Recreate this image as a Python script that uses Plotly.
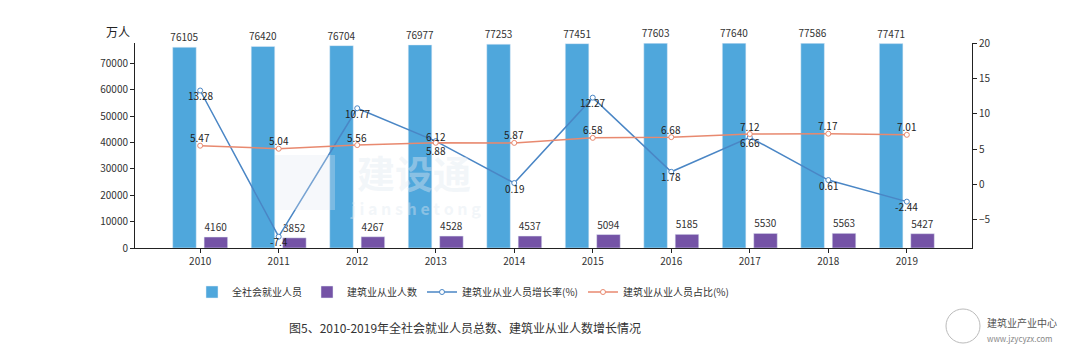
import plotly.graph_objects as go

years = ["2010", "2011", "2012", "2013", "2014", "2015", "2016", "2017", "2018", "2019"]
total_employed = [76105, 76420, 76704, 76977, 77253, 77451, 77603, 77640, 77586, 77471]
construction_employed = [4160, 3852, 4267, 4528, 4537, 5094, 5185, 5530, 5563, 5427]
growth_rate = [13.28, -7.4, 10.77, 6.12, 0.19, 12.27, 1.78, 6.66, 0.61, -2.44]
share_pct = [5.47, 5.04, 5.56, 5.88, 5.87, 6.58, 6.68, 7.12, 7.17, 7.01]

FONT = "Noto Sans CJK SC"
BLUE_BAR = "#4FA7DC"
PURPLE = "#7453A6"
LINE_BLUE = "#4A86C5"
ORANGE = "#E8896F"

W, H = 1080, 354
L, R, T, B = 135, 108, 43, 106

fig = go.Figure()
fig.add_trace(go.Bar(
    x=years, y=total_employed, name="全社会就业人员", marker_color=BLUE_BAR,
    text=[str(v) for v in total_employed], textposition="outside", cliponaxis=False,
    constraintext="none", textfont=dict(size=10, color="#333"), yaxis="y",
))
fig.add_trace(go.Bar(
    x=years, y=construction_employed, name="建筑业从业人数", marker_color=PURPLE,
    text=[str(v) for v in construction_employed], textposition="outside", cliponaxis=False,
    constraintext="none", textfont=dict(size=10, color="#333"), yaxis="y",
))
fig.add_trace(go.Scatter(
    x=years, y=growth_rate, name="建筑业从业人员增长率(%)", mode="lines+markers",
    line=dict(color=LINE_BLUE, width=1.5),
    marker=dict(symbol="circle", size=5, color="white", line=dict(color=LINE_BLUE, width=1)),
    yaxis="y2", cliponaxis=False,
))
fig.add_trace(go.Scatter(
    x=years, y=share_pct, name="建筑业从业人员占比(%)", mode="lines+markers",
    line=dict(color=ORANGE, width=1.5),
    marker=dict(symbol="circle", size=5, color="white", line=dict(color=ORANGE, width=1)),
    yaxis="y2", cliponaxis=False,
))

# label offsets (px): growth labels mostly just below the point, share labels above
growth_shift = [-5 if i != 3 else 5 for i in range(len(years))]
share_shift = [8 if i != 3 else -8 for i in range(len(years))]

annotations = []
for i, v in enumerate(growth_rate):
    annotations.append(dict(x=i, y=v, xref="x", yref="y2", text=f"{v:g}", showarrow=False,
                            xanchor="center", yanchor="middle", yshift=growth_shift[i],
                            font=dict(family=FONT, size=10, color="#222")))
for i, v in enumerate(share_pct):
    annotations.append(dict(x=i, y=v, xref="x", yref="y2", text=f"{v:g}", showarrow=False,
                            xanchor="center", yanchor="middle", yshift=share_shift[i],
                            font=dict(family=FONT, size=10, color="#222")))

def px_x(p):
    return (p - L) / (W - L - R)

def px_y(p):
    return (H - B - p) / (H - T - B)

def note(x, y, text, size, color, anchor="center"):
    annotations.append(dict(x=px_x(x), y=px_y(y), xref="paper", yref="paper", text=text,
                            showarrow=False, xanchor=anchor, yanchor="middle",
                            font=dict(family=FONT, size=size, color=color)))

note(118, 32, "万人", 12, "#222")
note(465, 327, "图5、2010-2019年全社会就业人员总数、建筑业从业人数增长情况", 12, "#333")
# watermark
WM = "rgba(225,233,241,0.42)"
note(414, 171, "<b>建设通</b>", 38, WM)
note(415, 208, "<b>j i a n s h e t o n g</b>", 16, WM)
# logo
note(985, 322, "建筑业产业中心", 10, "#555", "left")
note(985, 338, "www.jzycyzx.com", 8, "#888", "left")

shapes = [
    dict(type="circle", xref="paper", yref="paper", x0=px_x(946), x1=px_x(980), y0=px_y(343), y1=px_y(309),
         line=dict(color="#bbb", width=1)),
    dict(type="rect", xref="paper", yref="paper", x0=px_x(275), x1=px_x(335), y0=px_y(210), y1=px_y(155),
         line=dict(width=0), fillcolor="rgba(225,233,241,0.3)", layer="above"),
]

fig.update_layout(
    width=W, height=H,
    margin=dict(l=L, r=R, t=T, b=B, pad=0),
    paper_bgcolor="white", plot_bgcolor="white",
    font=dict(family=FONT, size=10, color="#333"),
    barmode="group", bargap=0.2, bargroupgap=0.25,
    showlegend=True,
    legend=dict(orientation="h", x=px_x(463), xanchor="center", y=px_y(292), yanchor="middle",
                font=dict(family=FONT, size=10, color="#333"), itemwidth=30, tracegroupgap=0,
                bgcolor="rgba(0,0,0,0)"),
    xaxis=dict(type="category", range=[-0.83, 9.83], showline=True, linecolor="#222", linewidth=1,
               ticks="outside", ticklen=4, tickcolor="#222", showgrid=False, zeroline=False,
               tickfont=dict(size=10, color="#333")),
    yaxis=dict(range=[0, 77700], tickvals=[0, 10000, 20000, 30000, 40000, 50000, 60000, 70000],
               tickformat="d",
               showline=True, linecolor="#222", linewidth=1, ticks="outside", ticklen=4, tickcolor="#222",
               showgrid=False, zeroline=False, tickfont=dict(size=10, color="#333")),
    yaxis2=dict(range=[-9, 20], tickvals=[-5, 0, 5, 10, 15, 20], overlaying="y", side="right",
                showline=True, linecolor="#222", linewidth=1, ticks="outside", ticklen=4, tickcolor="#222",
                showgrid=False, zeroline=False, tickfont=dict(size=10, color="#333")),
    annotations=annotations,
    shapes=shapes,
)

fig.write_html("out.html")
